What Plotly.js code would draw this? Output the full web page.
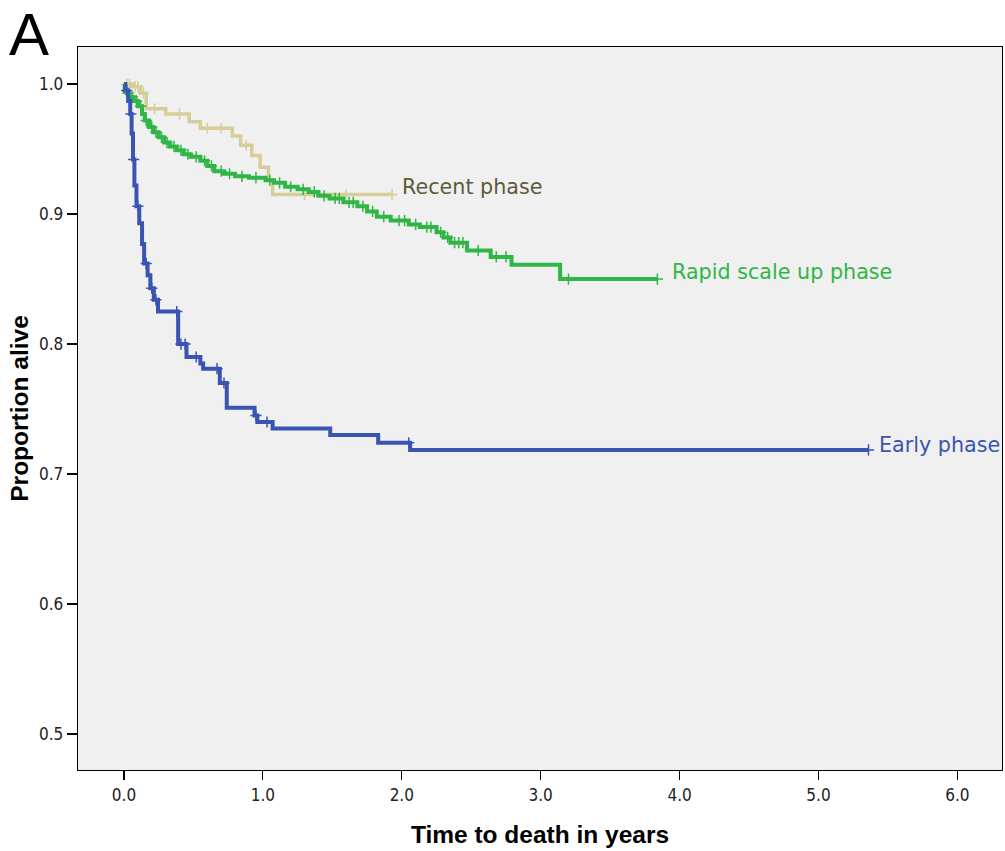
<!DOCTYPE html>
<html>
<head>
<meta charset="utf-8">
<script src="https://cdn.plot.ly/plotly-3.0.1.min.js"></script>
<style>html,body{margin:0;padding:0;background:#fff;}#chart{width:1005px;height:851px;}</style>
</head>
<body>
<div id="chart"></div>
<script>
// Early phase: event times and survival after each event
const earlyTimes = [0, 0.01, 0.03, 0.045, 0.055, 0.065, 0.075, 0.09, 0.11, 0.13, 0.145, 0.17, 0.19, 0.215, 0.245, 0.39, 0.45, 0.55, 0.57, 0.69, 0.74, 0.94, 0.96, 1.07, 1.485, 1.83, 2.06];
const earlySurv  = [1.0, 0.995, 0.987, 0.977, 0.962, 0.942, 0.922, 0.906, 0.893, 0.877, 0.862, 0.853, 0.843, 0.834, 0.825, 0.80, 0.79, 0.785, 0.781, 0.77, 0.751, 0.745, 0.74, 0.735, 0.73, 0.724, 0.7185];
const earlyEnd = 5.36;
const earlyCensor = [0.02, 0.05, 0.07, 0.10, 0.16, 0.2, 0.23, 0.38, 0.41, 0.44, 0.52, 0.67, 0.72, 0.95, 1.03, 2.05, 5.36];

// Rapid scale up phase
const rapidTimes = [0, 0.005, 0.02, 0.04, 0.07, 0.10, 0.13, 0.15, 0.18, 0.21, 0.25, 0.29, 0.33, 0.38, 0.43, 0.48, 0.55, 0.60, 0.65, 0.72, 0.80, 0.90, 1.02, 1.08, 1.16, 1.25, 1.33, 1.40, 1.48, 1.58, 1.68, 1.75, 1.82, 1.92, 2.05, 2.13, 2.25, 2.30, 2.35, 2.47, 2.64, 2.79, 3.14];
const rapidSurv  = [1.0, 0.995, 0.993, 0.99, 0.987, 0.983, 0.977, 0.972, 0.967, 0.963, 0.959, 0.955, 0.952, 0.949, 0.946, 0.944, 0.941, 0.937, 0.933, 0.931, 0.929, 0.928, 0.926, 0.924, 0.921, 0.919, 0.917, 0.914, 0.912, 0.909, 0.906, 0.902, 0.898, 0.895, 0.892, 0.89, 0.886, 0.882, 0.878, 0.872, 0.867, 0.861, 0.85];
const rapidEnd = 3.84;
const rapidCensor = [0.03, 0.06, 0.09, 0.12, 0.16, 0.2, 0.23, 0.27, 0.31, 0.36, 0.41, 0.46, 0.52, 0.58, 0.63, 0.7, 0.76, 0.85, 0.95, 1.05, 1.12, 1.2, 1.29, 1.37, 1.44, 1.52, 1.55, 1.62, 1.65, 1.72, 1.79, 1.87, 1.98, 2.02, 2.1, 2.18, 2.21, 2.28, 2.33, 2.38, 2.41, 2.44, 2.55, 2.68, 2.75, 3.2, 3.84];

// Recent phase
const recentTimes = [0, 0.06, 0.12, 0.16, 0.30, 0.47, 0.55, 0.78, 0.84, 0.92, 0.98, 1.04, 1.07];
const recentSurv  = [1.0, 0.998, 0.993, 0.981, 0.977, 0.971, 0.966, 0.96, 0.953, 0.945, 0.936, 0.926, 0.915];
const recentEnd = 1.93;
const recentCensor = [0.02, 0.04, 0.08, 0.1, 0.14, 0.22, 0.4, 0.6, 0.7, 0.88, 1.3, 1.6, 1.93];

const xTickVals = [0, 1, 2, 3, 4, 5, 6];
const xTickText = ["0.0", "1.0", "2.0", "3.0", "4.0", "5.0", "6.0"];
const yTickVals = [0.5, 0.6, 0.7, 0.8, 0.9, 1.0];
const yTickText = ["0.5", "0.6", "0.7", "0.8", "0.9", "1.0"];

const groupLabels = ["Early phase", "Rapid scale up phase", "Recent phase"];

function stepSeries(times, surv, end) {
  return {x: times.concat([end]), y: surv.concat([surv[surv.length - 1]])};
}
function survAt(times, surv, t) {
  let s = surv[0];
  for (let i = 0; i < times.length; i++) { if (times[i] <= t) s = surv[i]; }
  return s;
}

const groups = [
  {name: groupLabels[2], times: recentTimes, surv: recentSurv, end: recentEnd, cens: recentCensor, color: "#d7cd98", width: 3.5},
  {name: groupLabels[1], times: rapidTimes, surv: rapidSurv, end: rapidEnd, cens: rapidCensor, color: "#2fb646", width: 4},
  {name: groupLabels[0], times: earlyTimes, surv: earlySurv, end: earlyEnd, cens: earlyCensor, color: "#3a54b2", width: 4}
];

const traces = [];
groups.forEach(g => {
  const s = stepSeries(g.times, g.surv, g.end);
  traces.push({x: s.x, y: s.y, mode: "lines", line: {shape: "hv", color: g.color, width: g.width}, hoverinfo: "skip", showlegend: false});
  traces.push({x: g.cens, y: g.cens.map(t => survAt(g.times, g.surv, t)), mode: "markers",
    marker: {symbol: "cross-thin", size: 8, line: {color: g.color, width: 1.5}, color: g.color}, hoverinfo: "skip", showlegend: false});
});

const tickFont = {family: "DejaVu Sans Condensed, DejaVu Sans, sans-serif", size: 17, color: "#222"};
const titleFont = {family: "Liberation Sans, Arial, sans-serif", size: 24.5, color: "#000"};

const layout = {
  width: 1005, height: 851,
  margin: {l: 78, r: 3, t: 47, b: 81},
  paper_bgcolor: "#ffffff",
  plot_bgcolor: "#f0f0f0",
  font: {family: "DejaVu Sans, Verdana, sans-serif", color: "#000"},
  xaxis: {
    range: [-0.331, 6.321], tickvals: xTickVals, ticktext: xTickText,
    showgrid: false, zeroline: false, showline: true, linecolor: "#000", linewidth: 1.3, mirror: true,
    ticks: "outside", ticklen: 9, tickcolor: "#000", tickwidth: 1.2,
    tickfont: tickFont,
    title: {text: "<b>Time to death in years</b>", font: titleFont, standoff: 22}
  },
  yaxis: {
    range: [0.4723, 1.0285], tickvals: yTickVals, ticktext: yTickText,
    showgrid: false, zeroline: false, showline: true, linecolor: "#000", linewidth: 1.3, mirror: true,
    ticks: "outside", ticklen: 10, tickcolor: "#000", tickwidth: 1.2,
    tickfont: tickFont,
    title: {text: "<b>Proportion alive</b>", font: titleFont, standoff: 3}
  },
  annotations: [
    {x: 1.99, y: 0.921, xref: "x", yref: "y", text: groupLabels[2], showarrow: false, xanchor: "left", yanchor: "middle", font: {size: 20.7, color: "#5e5b3c"}},
    {x: 3.93, y: 0.8555, xref: "x", yref: "y", text: groupLabels[1], showarrow: false, xanchor: "left", yanchor: "middle", font: {size: 20.7, color: "#2fb646"}},
    {x: 5.42, y: 0.7225, xref: "x", yref: "y", text: groupLabels[0], showarrow: false, xanchor: "left", yanchor: "middle", font: {size: 20.7, color: "#3a54b2"}},
    {x: -0.077, y: 1.067, xref: "paper", yref: "paper", text: "A", showarrow: false, xanchor: "left", yanchor: "top", font: {family: "Liberation Sans, Arial, sans-serif", size: 60, color: "#000"}}
  ]
};

Plotly.newPlot("chart", traces, layout, {staticPlot: true, displayModeBar: false});
</script>
</body>
</html>
